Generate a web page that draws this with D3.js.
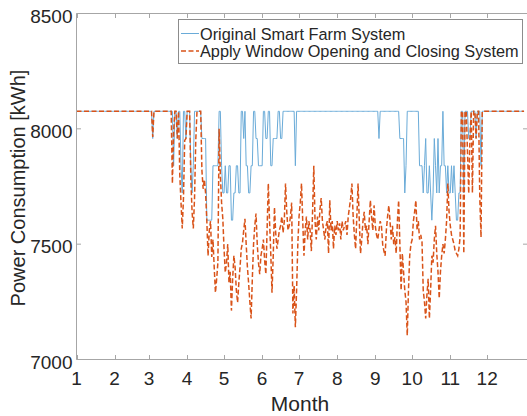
<!DOCTYPE html>
<html>
<head>
<meta charset="utf-8">
<script src="https://d3js.org/d3.v7.min.js"></script>
<style>
  body { margin: 0; background: #fff; }
  svg text { font-family: Arial, "Liberation Sans", Helvetica, sans-serif; fill: #262626; }
</style>
</head>
<body>
<div id="chart"></div>
<script>
// daily power consumption [kWh], day 1..365
const original = [
  8076,8076,8076,8076,8076,8076,8076,8076,8076,8076,
  8076,8076,8076,8076,8076,8076,8076,8076,8076,8076,
  8076,8076,8076,8076,8076,8076,8076,8076,8076,8076,
  8076,8076,8076,8076,8076,8076,8076,8076,8076,8076,
  8076,8076,8076,8076,8076,8076,8076,8076,8076,8076,
  8076,8076,8076,8076,8076,8076,8076,8076,8076,8076,
  8076,8076,7958,8076,8076,8076,8076,8076,8076,8076,
  8076,8076,8076,8076,8076,8076,8076,8076,8076,7840,
  8076,8076,7958,8076,8076,7840,7722,8076,8076,7958,
  8076,8076,8076,7840,7722,7840,8076,8076,8076,8076,
  8076,8076,7958,7958,7958,7958,7604,7604,7604,7604,
  7604,7840,7840,7840,7840,7840,8076,8076,7840,7722,
  7722,7840,7722,7722,7840,7840,7604,7604,7722,7722,
  7840,7840,7722,7722,8076,8076,7958,8076,7840,7840,
  7722,7722,7840,7840,8076,8076,7958,7958,7840,7840,
  7840,7840,8076,8076,7958,7958,8076,8076,7840,7840,
  7958,7958,7958,7958,8076,8076,7958,7958,8076,8076,
  8076,8076,8076,8076,8076,8076,8076,8076,7840,8076,
  8076,8076,8076,8076,8076,8076,8076,8076,8076,8076,
  8076,8076,8076,8076,8076,8076,8076,8076,8076,8076,
  8076,8076,8076,8076,8076,8076,8076,8076,8076,8076,
  8076,8076,8076,8076,8076,8076,8076,8076,8076,8076,
  8076,8076,8076,8076,8076,8076,8076,8076,8076,8076,
  8076,8076,8076,8076,8076,8076,8076,8076,8076,8076,
  8076,8076,8076,8076,8076,8076,7958,8076,8076,8076,
  8076,8076,8076,8076,8076,8076,8076,8076,8076,8076,
  8076,8076,8076,7958,7958,7958,7958,7722,7840,8076,
  8076,8076,8076,8076,8076,8076,8076,8076,8076,7840,
  7840,7840,7722,7840,7958,7722,7722,7840,7722,7604,
  7722,7958,7840,7722,7958,7722,7840,7840,8076,7840,
  7840,7722,7840,7722,7722,7840,7722,7840,7722,7604,
  7604,7722,7722,8076,8076,7722,8076,8076,8076,7958,
  7958,8076,8076,8076,8076,7958,8076,8076,8076,7840,
  8076,8076,8076,8076,8076,8076,8076,8076,8076,8076,
  8076,8076,8076,8076,8076,8076,8076,8076,8076,8076,
  8076,8076,8076,8076,8076,8076,8076,8076,8076,8076,
  8076,8076,8076,8076,8076
];

const windowSystem = [
  8076,8076,8076,8076,8076,8076,8076,8076,8076,8076,
  8076,8076,8076,8076,8076,8076,8076,8076,8076,8076,
  8076,8076,8076,8076,8076,8076,8076,8076,8076,8076,
  8076,8076,8076,8076,8076,8076,8076,8076,8076,8076,
  8076,8076,8076,8076,8076,8076,8076,8076,8076,8076,
  8076,8076,8076,8076,8076,8076,8076,8076,8076,8076,
  8076,8076,7965,8076,8076,8076,8076,8076,8076,8076,
  8076,8076,8076,8076,8076,8076,8076,8076,7763,7990,
  8076,8076,7958,8076,7800,7680,7568,7700,7950,7958,
  8076,8076,8076,7780,7640,7568,7700,7950,8076,8076,
  8076,8076,7820,7740,7780,7720,7600,7450,7560,7600,
  7445,7520,7400,7290,7350,7420,8000,7800,7680,7610,
  7480,7377,7420,7500,7333,7380,7212,7350,7450,7400,
  7300,7247,7330,7400,7480,7507,7560,7610,7500,7400,
  7330,7250,7178,7350,7500,7580,7633,7500,7420,7370,
  7450,7480,7520,7430,7370,7560,7763,7600,7460,7290,
  7450,7660,7550,7480,7520,7560,7580,7620,7550,7600,
  7763,7640,7560,7580,7620,7680,7200,7320,7140,7300,
  7500,7620,7680,7763,7600,7450,7560,7620,7520,7600,
  7560,7470,7640,7840,7600,7520,7620,7560,7650,7700,
  7600,7560,7520,7580,7600,7460,7690,7560,7600,7480,
  7580,7540,7600,7560,7590,7520,7600,7560,7580,7600,
  7540,7620,7660,7700,7763,7620,7540,7480,7620,7763,
  7600,7460,7520,7600,7640,7560,7580,7500,7600,7690,
  7620,7560,7668,7580,7540,7520,7560,7600,7580,7500,
  7470,7450,7560,7620,7668,7600,7520,7580,7500,7530,
  7460,7600,7690,7500,7300,7460,7380,7300,7250,7104,
  7300,7450,7500,7520,7600,7640,7690,7560,7600,7520,
  7540,7510,7300,7250,7178,7280,7350,7178,7300,7450,
  7420,7520,7580,7460,7380,7265,7380,7450,7500,7460,
  7520,7600,7763,7640,7580,7540,7520,7500,7470,7460,
  7450,7480,7530,8076,8076,7460,8076,8076,7900,7720,
  7958,8076,7723,8076,8076,7958,8076,8076,7700,7530,
  8076,8076,8076,8076,8076,8076,8076,8076,8076,8076,
  8076,8076,8076,8076,8076,8076,8076,8076,8076,8076,
  8076,8076,8076,8076,8076,8076,8076,8076,8076,8076,
  8076,8076,8076,8076,8076
];

// first day of each month (day of year) and its label
const monthStarts = [1, 32, 60, 91, 121, 152, 182, 213, 244, 274, 305, 335];
const monthLabels = ['1','2','3','4','5','6','7','8','9','10','11','12'];
const yTicks = [7000, 7500, 8000, 8500];
const seriesNames = ['Original Smart Farm System', 'Apply Window Opening and Closing System'];

const w = 527, h = 416;
const plotL = 76.5, plotR = 527.5, plotT = 13.5, plotB = 359.5;
const axisColor = '#a6a6a6';
const blue = '#6aabd8', orange = '#d95319';

const xScale = d3.scaleLinear().domain([1, 367.8]).range([plotL, plotR]);
const yScale = d3.scaleLinear().domain([7000, 8500]).range([plotB, plotT]);

const svg = d3.select('#chart').append('svg')
  .attr('width', w)
  .attr('height', h);

const line = d3.line()
  .x((d, i) => xScale(i + 1))
  .y(d => yScale(d));

svg.append('path')
  .datum(original)
  .attr('fill', 'none')
  .attr('stroke', blue)
  .attr('stroke-width', 1)
  .attr('d', line);

svg.append('path')
  .datum(windowSystem)
  .attr('fill', 'none')
  .attr('stroke', orange)
  .attr('stroke-width', 1.5)
  .attr('stroke-dasharray', '5,2.5')
  .attr('d', line);

// box
const frame = svg.append('g').attr('stroke', axisColor).attr('stroke-width', 1);
frame.append('line').attr('x1', plotL).attr('x2', plotR).attr('y1', plotB).attr('y2', plotB);
frame.append('line').attr('x1', plotL).attr('x2', plotR).attr('y1', plotT).attr('y2', plotT);
frame.append('line').attr('x1', plotL).attr('x2', plotL).attr('y1', plotT).attr('y2', plotB);
frame.append('line').attr('x1', plotR).attr('x2', plotR).attr('y1', plotT).attr('y2', plotB);

// inward ticks
const tickLen = 4.5;
monthStarts.forEach(d => {
  const x = Math.round(xScale(d)) + 0.5;
  frame.append('line').attr('x1', x).attr('x2', x).attr('y1', plotB).attr('y2', plotB - tickLen);
  frame.append('line').attr('x1', x).attr('x2', x).attr('y1', plotT).attr('y2', plotT + tickLen);
});
yTicks.forEach(v => {
  const y = yScale(v);
  frame.append('line').attr('x1', plotL).attr('x2', plotL + tickLen).attr('y1', y).attr('y2', y);
  frame.append('line').attr('x1', plotR).attr('x2', plotR - tickLen).attr('y1', y).attr('y2', y);
});

// tick labels
svg.selectAll('.xlab')
  .data(monthStarts)
  .enter()
  .append('text')
  .attr('class', 'xlab')
  .attr('x', d => xScale(d))
  .attr('y', 385)
  .attr('text-anchor', 'middle')
  .style('font-size', '19px')
  .text((d, i) => monthLabels[i]);

svg.selectAll('.ylab')
  .data(yTicks)
  .enter()
  .append('text')
  .attr('class', 'ylab')
  .attr('x', 72.5)
  .attr('y', d => yScale(d) + 9)
  .attr('text-anchor', 'end')
  .style('font-size', '19px')
  .text(d => d);

// axis titles
svg.append('text')
  .attr('x', 300)
  .attr('y', 411)
  .attr('text-anchor', 'middle')
  .style('font-size', '21px')
  .text('Month');

svg.append('text')
  .attr('transform', 'translate(25,188) rotate(-90)')
  .attr('text-anchor', 'middle')
  .style('font-size', '20px')
  .text('Power Consumption [kWh]');

// legend
const legend = svg.append('g');
legend.append('rect')
  .attr('x', 178.5).attr('y', 19.5)
  .attr('width', 344).attr('height', 44)
  .attr('fill', '#fff')
  .attr('stroke', '#8c8c8c')
  .attr('stroke-width', 1);

const legendRows = [
  { name: seriesNames[0], color: blue, width: 1, dash: null, y: 33.5 },
  { name: seriesNames[1], color: orange, width: 1.5, dash: '5,2.5', y: 51 }
];
legendRows.forEach(r => {
  legend.append('line')
    .attr('x1', 181).attr('x2', 199)
    .attr('y1', r.y).attr('y2', r.y)
    .attr('stroke', r.color)
    .attr('stroke-width', r.width)
    .attr('stroke-dasharray', r.dash);
  legend.append('text')
    .attr('x', 200)
    .attr('y', r.y + 6)
    .style('font-size', '16.3px')
    .text(r.name);
});
</script>
</body>
</html>
